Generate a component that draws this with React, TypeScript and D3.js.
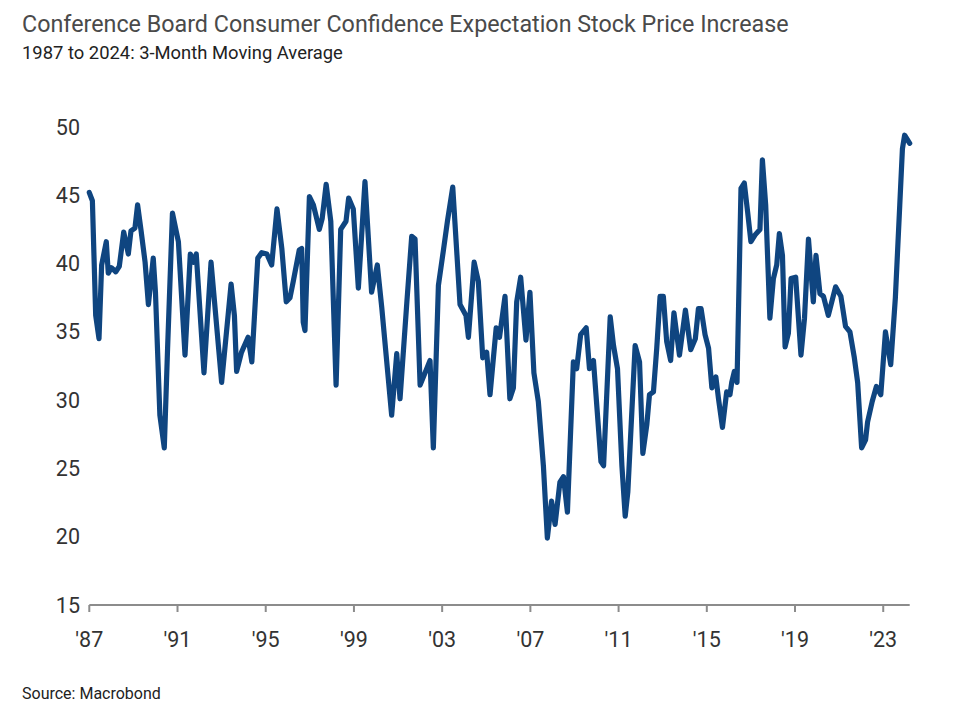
import React from "react";
import * as d3 from "d3";

const years: number[] = [
  1987.00, 1987.14, 1987.29, 1987.44, 1987.56, 1987.77, 1987.86, 1988.00, 1988.20, 1988.36,
  1988.56, 1988.77, 1988.89, 1989.07, 1989.19, 1989.34, 1989.53, 1989.68, 1989.90, 1990.00,
  1990.20, 1990.40, 1990.55, 1990.77, 1991.04, 1991.34, 1991.58, 1991.72, 1991.85, 1992.20,
  1992.52, 1993.00, 1993.43, 1993.58, 1993.68, 1993.90, 1994.20, 1994.37, 1994.64, 1994.82,
  1995.05, 1995.27, 1995.51, 1995.73, 1995.93, 1996.10, 1996.25, 1996.52, 1996.63, 1996.70,
  1996.78, 1996.98, 1997.16, 1997.43, 1997.56, 1997.74, 1997.95, 1998.19, 1998.40, 1998.64,
  1998.76, 1998.97, 1999.20, 1999.50, 1999.80, 2000.06, 2000.26, 2000.71, 2000.94, 2001.09,
  2001.40, 2001.62, 2001.77, 2002.00, 2002.45, 2002.60, 2002.83, 2003.05, 2003.24, 2003.48,
  2003.81, 2004.08, 2004.19, 2004.45, 2004.64, 2004.84, 2005.02, 2005.17, 2005.45, 2005.60,
  2005.85, 2006.07, 2006.23, 2006.38, 2006.56, 2006.80, 2006.98, 2007.16, 2007.36, 2007.59,
  2007.77, 2007.96, 2008.12, 2008.34, 2008.50, 2008.68, 2008.95, 2009.10, 2009.28, 2009.53,
  2009.68, 2009.86, 2010.20, 2010.32, 2010.62, 2010.77, 2010.95, 2011.15, 2011.30, 2011.42,
  2011.75, 2011.95, 2012.10, 2012.28, 2012.40, 2012.58, 2012.73, 2012.88, 2013.03, 2013.18,
  2013.36, 2013.51, 2013.76, 2014.03, 2014.27, 2014.48, 2014.62, 2014.74, 2014.92, 2015.08,
  2015.23, 2015.41, 2015.53, 2015.71, 2015.90, 2016.05, 2016.13, 2016.25, 2016.37, 2016.55,
  2016.70, 2016.85, 2017.00, 2017.19, 2017.41, 2017.52, 2017.67, 2017.86, 2018.02, 2018.17,
  2018.29, 2018.43, 2018.55, 2018.70, 2018.82, 2019.03, 2019.27, 2019.43, 2019.61, 2019.83,
  2019.95, 2020.13, 2020.29, 2020.51, 2020.84, 2021.08, 2021.29, 2021.49, 2021.69, 2021.84,
  2022.02, 2022.20, 2022.29, 2022.50, 2022.69, 2022.89, 2023.10, 2023.34, 2023.55, 2023.75,
  2023.87, 2023.97, 2024.20,
];

const values: number[] = [
  45.2, 44.6, 36.2, 34.5, 39.9, 41.6, 39.3, 39.7, 39.4, 39.8,
  42.3, 40.7, 42.4, 42.6, 44.3, 42.5, 40.1, 37.0, 40.4, 37.9,
  28.9, 26.5, 33.8, 43.7, 41.6, 33.3, 40.7, 40.1, 40.7, 32.0,
  40.1, 31.3, 38.5, 36.2, 32.1, 33.5, 34.6, 32.8, 40.4, 40.8,
  40.7, 39.9, 44.0, 41.1, 37.2, 37.5, 38.7, 41.0, 41.1, 35.7,
  35.1, 44.9, 44.3, 42.5, 43.3, 45.8, 43.1, 31.1, 42.5, 43.1,
  44.8, 44.0, 38.2, 46.0, 37.9, 39.9, 36.8, 28.9, 33.4, 30.1,
  37.2, 42.0, 41.8, 31.1, 32.9, 26.5, 38.4, 40.9, 43.1, 45.6,
  37.0, 36.2, 34.6, 40.1, 38.7, 33.1, 33.5, 30.4, 35.3, 34.6,
  37.6, 30.1, 30.9, 37.2, 39.0, 34.4, 37.9, 32.0, 29.9, 25.2,
  19.9, 22.6, 20.9, 24.0, 24.4, 21.8, 32.8, 32.3, 34.8, 35.3,
  32.3, 32.9, 25.5, 25.2, 36.1, 34.0, 32.3, 25.2, 21.5, 23.3,
  34.0, 32.8, 26.1, 28.2, 30.4, 30.6, 33.8, 37.6, 37.6, 34.3,
  32.9, 36.4, 33.3, 36.6, 33.7, 34.5, 36.7, 36.7, 34.8, 33.8,
  30.9, 31.7, 30.1, 28.0, 30.6, 30.4, 31.3, 32.1, 31.3, 45.5,
  45.9, 43.8, 41.6, 42.1, 42.5, 47.6, 44.3, 36.0, 38.9, 39.9,
  42.2, 40.6, 33.9, 34.9, 38.9, 39.0, 33.3, 36.0, 41.8, 37.2,
  40.6, 37.8, 37.6, 36.2, 38.3, 37.6, 35.4, 35.0, 33.1, 31.3,
  26.5, 27.1, 28.4, 29.9, 31.0, 30.4, 35.0, 32.6, 37.5, 44.3,
  48.4, 49.4, 48.8,
];

const xTickYears: number[] = [1987, 1991, 1995, 1999, 2003, 2007, 2011, 2015, 2019, 2023];
const yTickValues: number[] = [15, 20, 25, 30, 35, 40, 45, 50];

const title = "Conference Board Consumer Confidence Expectation Stock Price Increase";
const subtitle = "1987 to 2024: 3-Month Moving Average";
const source = "Source: Macrobond";

export default function App() {
  const width = 960;
  const height = 717;
  const x = d3.scaleLinear().domain([1987, 2024.2]).range([89.3, 909.7]);
  const y = d3.scaleLinear().domain([15, 50]).range([605, 127]);
  const pts: [number, number][] = years.map((yr, i) => [yr, values[i]]);
  const line = d3
    .line<[number, number]>()
    .x((d) => x(d[0]))
    .y((d) => y(d[1]));
  const font = "Roboto, 'Noto Sans', sans-serif";
  return (
    <svg
      width={width}
      height={height}
      style={{ position: "absolute", left: 0, top: 0, background: "#fff" }}
    >
      <text x={22} y={32} fontFamily={font} fontSize={23.3} fill="#4a4a4a">
        {title}
      </text>
      <text x={22} y={59} fontFamily={font} fontSize={18.4} fill="#222">
        {subtitle}
      </text>
      {yTickValues.map((v) => (
        <text
          key={v}
          x={80}
          y={y(v)}
          dy="0.35em"
          textAnchor="end"
          fontFamily={font}
          fontSize={21.5}
          fill="#333"
        >
          {v}
        </text>
      ))}
      <line x1={x.range()[0]} x2={x.range()[1]} y1={y(15)} y2={y(15)} stroke="#8c8c8c" strokeWidth={2} />
      {xTickYears.map((yr) => (
        <g key={yr}>
          <line x1={x(yr)} x2={x(yr)} y1={y(15)} y2={y(15) + 7} stroke="#8c8c8c" strokeWidth={2} />
          <text
            x={x(yr)}
            y={647}
            textAnchor="middle"
            fontFamily={font}
            fontSize={21.5}
            fill="#333"
          >
            {"'" + String(yr).slice(2)}
          </text>
        </g>
      ))}
      <path
        d={line(pts) || ""}
        fill="none"
        stroke="#0f4580"
        strokeWidth={5.2}
        strokeLinejoin="round"
        strokeLinecap="round"
      />
      <text x={22} y={699} fontFamily={font} fontSize={16} fill="#222">
        {source}
      </text>
    </svg>
  );
}
